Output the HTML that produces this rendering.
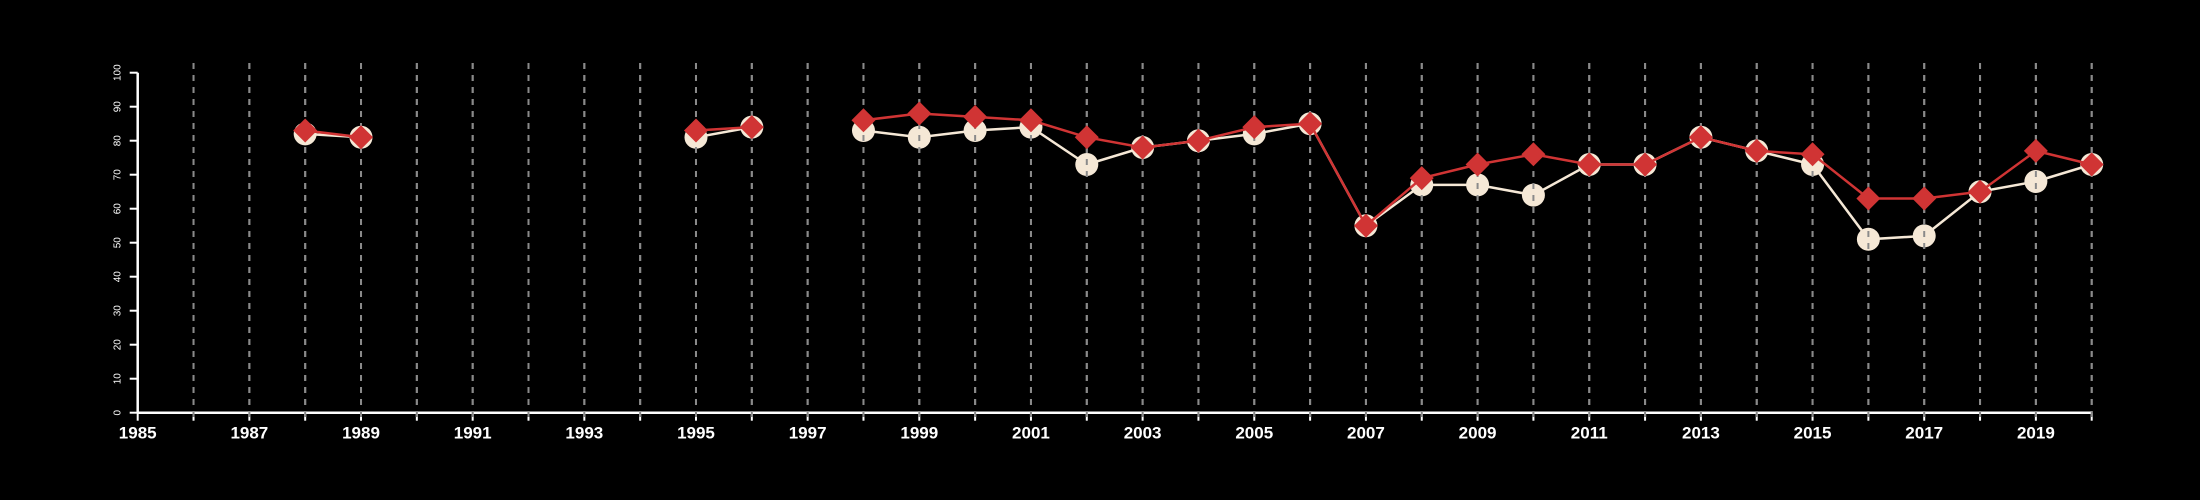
<!DOCTYPE html>
<html><head><meta charset="utf-8"><style>
html,body{margin:0;padding:0;background:#000;}
svg{display:block;}
</style></head><body>
<svg id="chart" width="2200" height="500" xmlns="http://www.w3.org/2000/svg" style="background:#000;font-family:'Liberation Sans',sans-serif;">
<g id="grid"></g>
<g id="axes"></g>
<g id="series-a"></g>
<g id="grid2"></g>
<g id="series-b"></g>
</svg>
<script>
const years = [1988,1989,1995,1996,1998,1999,2000,2001,2002,2003,2004,2005,2006,2007,2008,2009,2010,2011,2012,2013,2014,2015,2016,2017,2018,2019,2020];
const seriesA = [82,81,81,84,83,81,83,84,73,78,80,82,85,55,67,67,64,73,73,81,77,73,51,52,65,68,73];
const seriesB = [83,81,83,84,86,88,87,86,81,78,80,84,85,55,69,73,76,73,73,81,77,76,63,63,65,77,73];
const yTicks = [0,10,20,30,40,50,60,70,80,90,100];
const xLabels = [1985,1987,1989,1991,1993,1995,1997,1999,2001,2003,2005,2007,2009,2011,2013,2015,2017,2019];

const NS='http://www.w3.org/2000/svg';
const X0=137.7, X1=2091.7, Y0=412.7, Y1=72.7;
const xMin=1985, xMax=2020;
const x = v => X0 + (v-xMin)/(xMax-xMin)*(X1-X0);
const y = v => Y0 - v/100*(Y0-Y1);
function mk(tag, attrs, parent){const e=document.createElementNS(NS,tag);for(const k in attrs)e.setAttribute(k,attrs[k]);parent.appendChild(e);return e;}

const grid=document.getElementById('grid'), grid2=document.getElementById('grid2'), axes=document.getElementById('axes');
for(let yr=xMin+1; yr<=xMax; yr++){
  for(const g of [grid,grid2]){
    const l=mk('line',{x1:x(yr),x2:x(yr),y1:63,y2:422,stroke:'#8a8a8a','stroke-width':2,'stroke-dasharray':'6 6'},g);
    
    
  }
}
// axes
const xa=mk('line',{x1:X0,x2:X1,y1:Y0,y2:Y0,stroke:'#fff','stroke-width':2.5},axes);


const ya=mk('line',{x1:X0,x2:X0,y1:Y0,y2:Y1,stroke:'#fff','stroke-width':2.5},axes);


for(let yr=xMin; yr<=xMax; yr++){
  const t=mk('line',{x1:x(yr),x2:x(yr),y1:Y0,y2:Y0+8,stroke:'#fff','stroke-width':2},axes);
  
  
}
xLabels.forEach(v=>{
  const t=mk('text',{x:x(v),y:Y0+26,fill:'#fff','font-size':17,'font-weight':'bold','text-anchor':'middle'},axes);
  t.textContent=v;
  
  
});
yTicks.forEach(v=>{
  const t=mk('line',{x1:X0-8,x2:X0,y1:y(v),y2:y(v),stroke:'#fff','stroke-width':2},axes);
  
  
  const lb=mk('text',{x:0,y:0,fill:'#fff','font-size':10,'text-anchor':'middle',transform:`translate(${X0-17},${y(v)}) rotate(-90)`},axes);
  lb.textContent=v;
  
  
});

function segments(){
  const segs=[];let cur=[];
  years.forEach((yr,i)=>{
    if(i>0 && yr-years[i-1]>1){segs.push(cur);cur=[];}
    cur.push(i);
  });
  segs.push(cur);return segs;
}
function drawLine(g,vals,color,name){
  segments().forEach(s=>{
    if(s.length<2)return;
    const p=mk('polyline',{points:s.map(i=>x(years[i])+','+y(vals[i])).join(' '),fill:'none',stroke:color,'stroke-width':2.5},g);
    
    
  });
}
const ga=document.getElementById('series-a'), gb=document.getElementById('series-b');
drawLine(ga,seriesA,'#f5e8d6','beige-line');
seriesA.forEach((v,i)=>{
  const c=mk('circle',{cx:x(years[i]),cy:y(v),r:11.5,fill:'#f5e8d6'},ga);
  
  
});
drawLine(gb,seriesB,'#d03434','red-line');
seriesB.forEach((v,i)=>{
  const cx=x(years[i]), cy=y(v), r=12;
  const d=mk('polygon',{points:`${cx},${cy-r} ${cx+r},${cy} ${cx},${cy+r} ${cx-r},${cy}`,fill:'#d03434'},gb);
  
  
});
</script>
</body></html>
